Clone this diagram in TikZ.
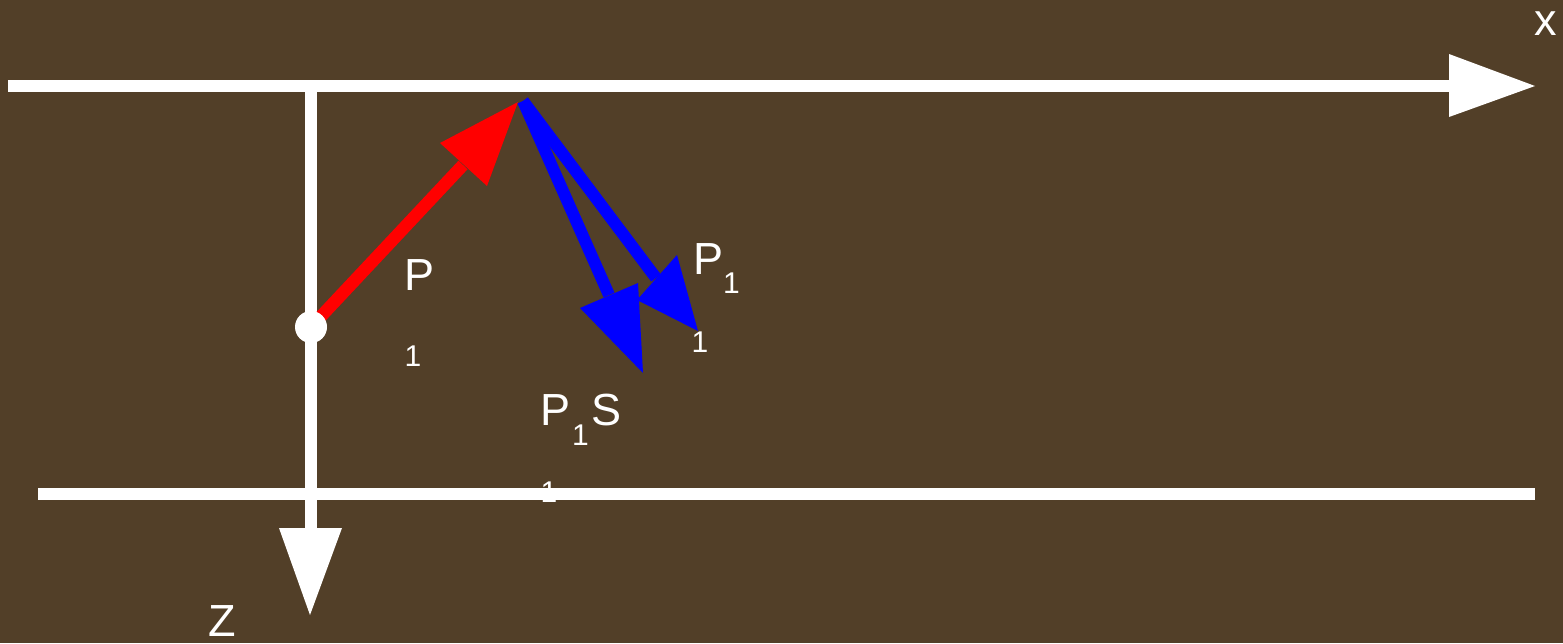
\documentclass[tikz,border=0pt]{standalone}
\usepackage{fontspec}
\setmainfont{Liberation Sans}
\definecolor{bg}{HTML}{523F28}
\begin{document}
\begin{tikzpicture}[x=1pt,y=-1pt,
  axis/.style={draw=white,line width=12pt},
  tipw/.style={fill=white},
  big/.style={text=white,inner sep=0pt,font=\fontsize{45}{54}\selectfont},
  sub/.style={text=white,inner sep=0pt,font=\fontsize{30}{36}\selectfont},
  redvec/.style={draw=red,line width=12.5pt},
  bluevec/.style={draw=blue,line width=12pt}]
\fill[bg] (0,0) rectangle (1563,643);
\useasboundingbox (0,0) rectangle (1563,643);
% coordinates
\coordinate (xl) at (8,86);
\coordinate (xb) at (1452,86);
\coordinate (xt) at (1535,86);
\coordinate (xu) at (1449,54);
\coordinate (xd) at (1449,117);
\coordinate (zt) at (311,80);
\coordinate (zb) at (311,530);
\coordinate (ztip) at (310,615);
\coordinate (zl) at (279,528);
\coordinate (zr) at (342,528);
\coordinate (bl) at (38,494);
\coordinate (br) at (1535,494);
\coordinate (src) at (311,327);
\coordinate (hit) at (518,102);
\coordinate (rb) at (463,165);
\coordinate (ra) at (440,143);
\coordinate (rc) at (487,186);
\coordinate (bs) at (523,101);
\coordinate (b1) at (609,295);
\coordinate (b1t) at (643,373);
\coordinate (b1a) at (580,308);
\coordinate (b1c) at (638,283);
\coordinate (b2) at (656,278);
\coordinate (b2t) at (698,331);
\coordinate (b2a) at (637,300);
\coordinate (b2c) at (677,255);
% labels drawn beneath the lines
\node[big] (lp) at (420,275) {P};
\node[sub] (lp1) at (413,356) {1};
\node[big] (lq) at (708,259) {P};
\node[sub] (lq1) at (731.5,283) {1};
\node[sub] (lq2) at (700,342) {1};
\node[big] (ls) at (556,410) {P};
\node[sub] (ls1) at (580.5,435) {1};
\node[big] (ls2) at (606,410) {S};
\node[sub] (ls3) at (549,492) {1};
\node[big] (lx) at (1546,24) {x};
\node[big] (lz) at (222,621) {Z};
% axes
\draw[axis] (xl) -- (xb);
\fill[tipw] (xu) -- (xt) -- (xd) -- cycle;
\draw[axis] (zt) -- (zb);
\fill[tipw] (zl) -- (ztip) -- (zr) -- cycle;
\draw[axis] (bl) -- (br);
% red incident ray
\draw[redvec] (src) -- (rb);
\fill[red] (ra) -- (hit) -- (rc) -- cycle;
% blue reflected rays
\draw[bluevec] (bs) -- (b1);
\fill[blue] (b1a) -- (b1t) -- (b1c) -- cycle;
\draw[bluevec] (bs) -- (b2);
\fill[blue] (b2a) -- (b2t) -- (b2c) -- cycle;
% source point
\fill[white] (src) circle (16);
\end{tikzpicture}
\end{document}
